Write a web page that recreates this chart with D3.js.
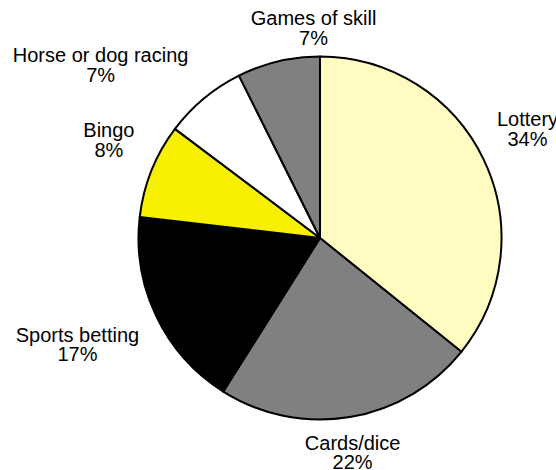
<!DOCTYPE html>
<html>
<head>
<meta charset="utf-8">
<script src="https://cdn.jsdelivr.net/npm/d3@7"></script>
<style>
  body { margin: 0; background: #fff; }
  svg { display: block; }
  text { font-family: "Liberation Sans", Arial, sans-serif; fill: #000; }
</style>
</head>
<body>
<div id="chart"></div>
<script>
// values as printed on the chart (they sum to 95, pie normalises them)
const categories = ['Lottery', 'Cards/dice', 'Sports betting', 'Bingo', 'Horse or dog racing', 'Games of skill'];
const shares = [34, 22, 17, 8, 7, 7];
const labels = ['34%', '22%', '17%', '8%', '7%', '7%'];
const fills = ['#fffbc1', '#808080', '#000000', '#f7f000', '#ffffff', '#808080'];
// small manual shifts of labels, like the spreadsheet did to avoid overlap
const labelShift = [[-5, -10], [-9, -7], [-2, 10], [3, -13], [-32, 2], [55, 11]];

const width = 556, height = 470;
const center = {x: 320, y: 238};
const radius = 181.5;

const svg = d3.select('#chart').append('svg')
    .attr('width', width)
    .attr('height', height);

const g = svg.append('g')
    .attr('transform', `translate(${center.x},${center.y})`);

const data = categories.map((c, i) => ({name: c, value: shares[i], label: labels[i], fill: fills[i], i: i}));

const pie = d3.pie().sort(null).value(d => d.value);
const arcs = pie(data);
const arc = d3.arc().innerRadius(0).outerRadius(radius);
const labelArc = d3.arc().innerRadius(205).outerRadius(205);

// slices
g.selectAll('path.slice').data(arcs).enter().append('path')
    .attr('class', 'slice')
    .attr('d', arc)
    .attr('fill', d => d.data.fill)
    .attr('stroke', '#000')
    .attr('stroke-width', 2)
    .attr('stroke-linejoin', 'round');

// labels: name on top, percent below
const lab = g.selectAll('g.lab').data(arcs).enter().append('g').attr('class', 'lab');
lab.each(function(d) {
  const el = d3.select(this);
  const t1 = el.append('text').attr('text-anchor', 'middle').attr('font-size', '20px').text(d.data.name);
  el.append('text').attr('text-anchor', 'middle').attr('font-size', '20px').attr('y', 19.5).text(d.data.label);
  const w = t1.node().getComputedTextLength();
  const h = 42;
  const mid = (d.startAngle + d.endAngle) / 2;
  const p = labelArc.centroid(d);
  const s = labelShift[d.data.i];
  const x = p[0] + Math.sin(mid) * w / 2 + s[0];
  const y = p[1] - Math.cos(mid) * h / 2 - 4 + s[1];
  el.attr('transform', `translate(${x},${y})`);
});
</script>
</body>
</html>
